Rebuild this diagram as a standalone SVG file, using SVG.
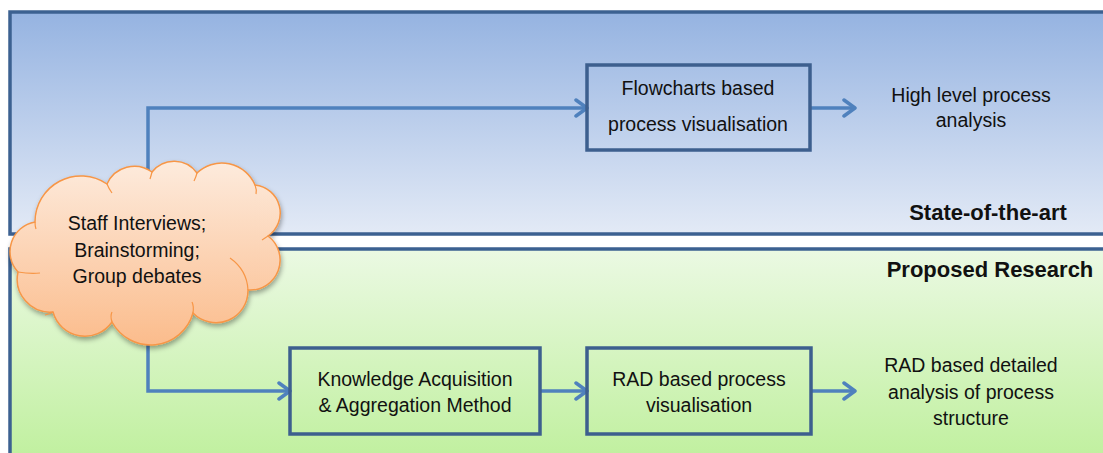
<svg xmlns="http://www.w3.org/2000/svg" width="1103" height="453" viewBox="0 0 1103 453">
<defs>
<linearGradient id="gTop" x1="0" y1="0" x2="0" y2="1">
<stop offset="0" stop-color="#95B3E1"/>
<stop offset="1" stop-color="#E3EAF6"/>
</linearGradient>
<linearGradient id="gBot" x1="0" y1="0" x2="0" y2="1">
<stop offset="0" stop-color="#EBF9E3"/>
<stop offset="1" stop-color="#BCEF98"/>
</linearGradient>
<linearGradient id="gCloud" x1="0" y1="0" x2="0" y2="1">
<stop offset="0" stop-color="#FDEBDD"/>
<stop offset="1" stop-color="#FBBC8C"/>
</linearGradient>
<filter id="shadow" x="-20%" y="-20%" width="140%" height="140%">
<feDropShadow dx="1" dy="3" stdDeviation="2.5" flood-color="#000" flood-opacity="0.35"/>
</filter>
<marker id="arrow" viewBox="0 0 16 20" refX="14" refY="10" markerWidth="16" markerHeight="20" markerUnits="userSpaceOnUse" orient="auto">
<path d="M3,2 L14,10 L3,18" fill="none" stroke="#4F81BD" stroke-width="3.5" stroke-linecap="round" stroke-linejoin="round"/>
</marker>
<style>
.panel{stroke:#3C6191;stroke-width:3.5}
.box{fill:none;stroke:#3D5F8E;stroke-width:3.5}
.conn{fill:none;stroke:#4F81BD;stroke-width:3.5;marker-end:url(#arrow)}
.t{font-family:"Liberation Sans",Arial,sans-serif;font-size:19.5px;fill:#111;text-anchor:middle}
.h{font-family:"Liberation Sans",Arial,sans-serif;font-size:22px;font-weight:bold;fill:#111;text-anchor:middle}
</style>
</defs>
<rect width="1103" height="453" fill="#FFFFFF"/>
<g id="panel-state-of-the-art">
<rect class="panel" x="10" y="12" width="1110" height="222" fill="url(#gTop)"/>
<text class="h" x="988" y="220">State-of-the-art</text>
</g>
<g id="panel-proposed-research">
<rect class="panel" x="10" y="249" width="1110" height="230" fill="url(#gBot)"/>
<text class="h" x="990" y="277">Proposed Research</text>
</g>
<g id="connectors">
<path class="conn" d="M148,170 L148,108 L587,108"/>
<path class="conn" d="M810,108 L855,108"/>
<path class="conn" d="M148,345 L148,391 L290,391"/>
<path class="conn" d="M540,391 L587,391"/>
<path class="conn" d="M811,391 L855,391"/>
</g>
<g id="cloud">
<path filter="url(#shadow)" fill="url(#gCloud)" stroke="#F79646" stroke-width="1.5" d="M35,222 A46,46 0 0 1 107,184 A30,30 0 0 1 152,172 A28,28 0 0 1 197,173 A36,36 0 0 1 255,185 A28,28 0 0 1 268,236 A30,30 0 0 1 248,290 A32,32 0 0 1 193,313 A44,44 0 0 1 112,322 A33,33 0 0 1 53,312 A33,33 0 0 1 18,272 A30,30 0 0 1 35,222 Z"/>
<g fill="none" stroke="#F79646" stroke-width="1.2">
<path d="M107,184 Q109,189 112,193"/>
<path d="M152,172 Q151,176 150,179"/>
<path d="M197,173 Q196,177 194,181"/>
<path d="M255,185 Q257,190 256,194"/>
<path d="M268,236 Q265,238 262,240"/>
<path d="M248,290 Q247,270 230,258"/>
<path d="M193,313 Q194,306 192,302"/>
<path d="M112,322 Q110,316 112,312"/>
<path d="M53,312 Q50,314 45,315"/>
<path d="M18,272 Q30,274 40,273"/>
<path d="M35,222 Q35,226 36,229"/>
</g>
<text class="t" x="137" y="230">Staff Interviews;</text>
<text class="t" x="137" y="257">Brainstorming;</text>
<text class="t" x="137" y="283">Group debates</text>
</g>
<g id="flowcharts">
<rect class="box" x="587" y="65" width="223" height="85"/>
<text class="t" x="698" y="95">Flowcharts based</text>
<text class="t" x="698" y="131">process visualisation</text>
</g>
<g id="high-level">
<text class="t" x="971" y="102">High level process</text>
<text class="t" x="971" y="127">analysis</text>
</g>
<g id="knowledge">
<rect class="box" x="290" y="348" width="250" height="86"/>
<text class="t" x="415" y="386">Knowledge Acquisition</text>
<text class="t" x="415" y="412">&amp; Aggregation Method</text>
</g>
<g id="rad-visualisation">
<rect class="box" x="587" y="348" width="224" height="86"/>
<text class="t" x="699" y="386">RAD based process</text>
<text class="t" x="699" y="412">visualisation</text>
</g>
<g id="rad-analysis">
<text class="t" x="971" y="372">RAD based detailed</text>
<text class="t" x="971" y="399">analysis of process</text>
<text class="t" x="971" y="425">structure</text>
</g>
</svg>
